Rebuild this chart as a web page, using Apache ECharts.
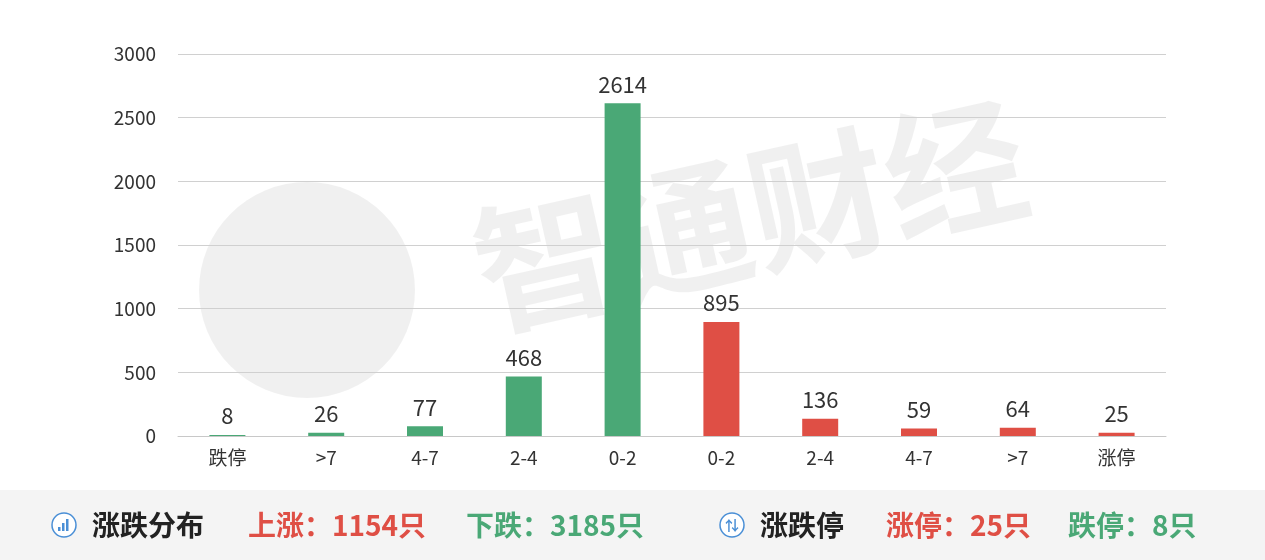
<!DOCTYPE html>
<html><head><meta charset="utf-8">
<script src="https://cdn.jsdelivr.net/npm/echarts@6/dist/echarts.min.js"></script>
<style>html,body{margin:0;padding:0;background:#fff}#c{width:1265px;height:560px}</style>
</head><body><div id="c"></div>
<script>
const categories = ['跌停','>7','4-7','2-4','0-2','0-2','2-4','4-7','>7','涨停'];
const values = [8,26,77,468,2614,895,136,59,64,25];
const barColors = ['#4aa876','#4aa876','#4aa876','#4aa876','#4aa876','#df4f45','#df4f45','#df4f45','#df4f45','#df4f45'];
const yTicks = [0,500,1000,1500,2000,2500,3000];
const RED='#df4f45', GREEN='#4aa876';
const F='"Noto Sans CJK SC","Noto Sans",sans-serif';
const chart = echarts.init(document.getElementById('c'));
function icon(x,kind){
  const els=[{type:'circle',shape:{cx:x,cy:525,r:12},style:{fill:'#fff',stroke:'#4a8fd6',lineWidth:1.5}}];
  if(kind===0){
    els.push({type:'rect',shape:{x:x-6,y:527,width:2.5,height:4},style:{fill:'#4a8fd6'}});
    els.push({type:'rect',shape:{x:x-2,y:523,width:2.5,height:8},style:{fill:'#4a8fd6'}});
    els.push({type:'rect',shape:{x:x+2,y:519,width:2.5,height:12},style:{fill:'#4a8fd6'}});
  } else {
    els.push({type:'text',style:{x:x,y:525,text:'⇅',fill:'#4a8fd6',font:'bold 14px '+F,align:'center',verticalAlign:'middle'}});
  }
  return els;
}
const T=(x,t,c)=>({type:'text',x:x,y:525,style:{text:t,font:'bold 28px '+F,fill:c,verticalAlign:'middle'}});
chart.setOption({
  backgroundColor:'#fff',
  animation:false,
  grid:{left:178,right:99,top:54,bottom:124},
  xAxis:{type:'category',data:categories,
    axisLine:{lineStyle:{color:'#c8c8c8'}},
    axisTick:{length:16,lineStyle:{color:'#c8c8c8'}},
    axisLabel:{color:'#333',fontSize:19,fontFamily:F,margin:12}},
  yAxis:{type:'value',min:0,max:3000,interval:500,
    axisLabel:{color:'#333',fontSize:19,fontFamily:F,margin:22,formatter:v=>String(v)},
    splitLine:{lineStyle:{color:'#d0d0d0'}}},
  graphic:[
    {type:'circle',shape:{cx:307,cy:290,r:108},style:{fill:'rgba(0,0,0,0.06)'},z:-1},
    {type:'text',rotation:0.22,x:750,y:215,style:{text:'智通财经',font:'bold 140px "Noto Sans CJK SC"',fill:'rgba(0,0,0,0.06)',align:'center',verticalAlign:'middle'},z:-1},
    {type:'rect',shape:{x:0,y:490,width:1265,height:70},style:{fill:'#f4f4f4'}},
    ...icon(64,0),
    T(92,'涨跌分布','#222'),
    T(248,'上涨：1154只',RED),
    T(466,'下跌：3185只',GREEN),
    ...icon(732,1),
    T(760,'涨跌停','#222'),
    T(886,'涨停：25只',RED),
    T(1068,'跌停：8只',GREEN)
  ],
  series:[{type:'bar',barWidth:36,
    data:values.map((v,i)=>({value:v,itemStyle:{color:barColors[i]}})),
    label:{show:true,position:'top',color:'#333',fontSize:22,fontFamily:F,distance:8}}]
});
</script></body></html>
